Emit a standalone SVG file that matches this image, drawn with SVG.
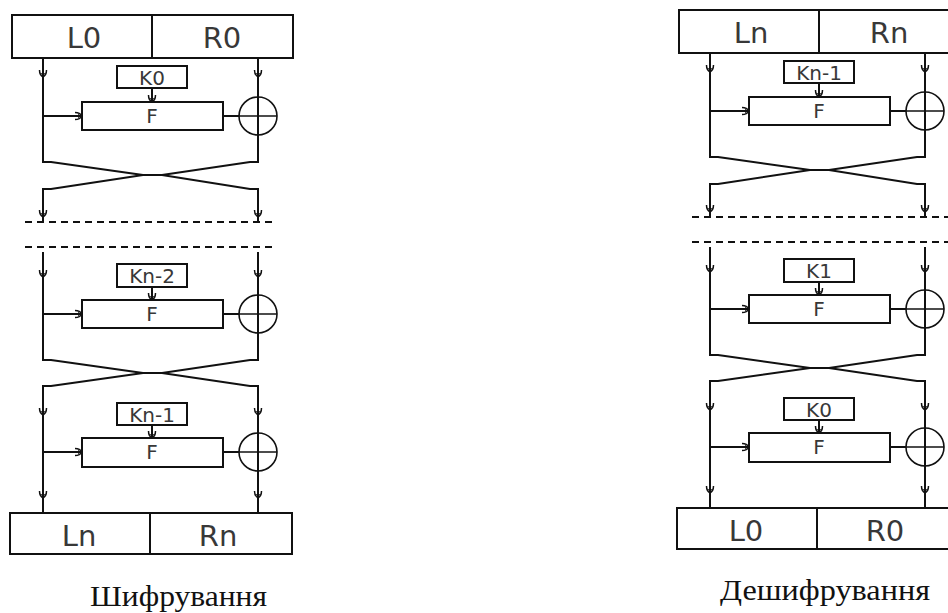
<svg xmlns="http://www.w3.org/2000/svg" xmlns:xlink="http://www.w3.org/1999/xlink" width="948" height="613" viewBox="0 0 948 613">
<style>
.ln{stroke:#111;stroke-width:2;fill:none}
.xor{stroke:#111;stroke-width:1.6;fill:none}
.dash{stroke:#111;stroke-width:2;fill:none;stroke-dasharray:7 5}
.box{fill:#fff;stroke:#111;stroke-width:2}
.big{font-family:"DejaVu Sans",sans-serif;font-size:29px;fill:#383838;text-anchor:middle}
.sm{font-family:"DejaVu Sans",sans-serif;font-size:20px;fill:#383838;text-anchor:middle}
.cap{font-family:"Liberation Serif",serif;font-size:30px;fill:#111;text-anchor:middle}
</style>
<defs>
<g id="ah"><path d="M-3.5,-7 Q-3.5,-2 0,0 Q3.5,-2 3.5,-7" fill="none" stroke="#111" stroke-width="1.5"/><path d="M-2,-4 L2,-4 L0,0Z" fill="#111"/></g>
<g id="ahr"><use xlink:href="#ah" transform="rotate(-90)"/></g>
</defs>
<rect width="948" height="613" fill="#fff"/>

<!-- ENCRYPTION -->
<g id="encryption">
<g id="connectors-enc">
<path class="ln" d="M43,58 V162 H51 L143,175 H162 L250,189 H258 V222"/>
<path class="ln" d="M258,58 V162 H250 L162,175 H143 L51,189 H43 V222"/>
<path class="ln" d="M43,116 H82 M223,116 H239 M152,88 V102"/>
<line class="dash" x1="25" y1="222" x2="277" y2="222"/>
<line class="dash" x1="25" y1="247" x2="277" y2="247"/>
<path class="ln" d="M43,252 V360 H51 L143,373 H162 L250,386 H258 V513"/>
<path class="ln" d="M258,252 V360 H250 L162,373 H143 L51,386 H43 V513"/>
<path class="ln" d="M43,314 H82 M223,314 H239 M152,287 V300"/>
<path class="ln" d="M43,452 H82 M223,452 H239 M152,425 V438"/>
<use xlink:href="#ah" x="43" y="77"/><use xlink:href="#ah" x="258" y="77"/>
<use xlink:href="#ah" x="152" y="102"/><use xlink:href="#ahr" transform="translate(82,116)"/>
<use xlink:href="#ah" x="43" y="217"/><use xlink:href="#ah" x="258" y="217"/>
<use xlink:href="#ah" x="43" y="277"/><use xlink:href="#ah" x="258" y="277"/>
<use xlink:href="#ah" x="152" y="300"/><use xlink:href="#ahr" transform="translate(82,314)"/>
<use xlink:href="#ah" x="43" y="415"/><use xlink:href="#ah" x="258" y="415"/>
<use xlink:href="#ah" x="152" y="438"/><use xlink:href="#ahr" transform="translate(82,452)"/>
<use xlink:href="#ah" x="43" y="498"/><use xlink:href="#ah" x="258" y="498"/>
</g>
<g id="enc-input"><rect class="box" x="12" y="15" width="281" height="43"/><line class="ln" x1="152" y1="15" x2="152" y2="58"/><text class="big" x="84" y="48">L0</text><text class="big" x="222" y="48">R0</text></g>
<g id="enc-k0"><rect class="box" x="117" y="66" width="70" height="22"/><text class="sm" x="152" y="85">K0</text></g>
<g id="enc-f1"><rect class="box" x="82" y="102" width="141" height="28"/><text class="sm" x="152" y="123">F</text></g>
<g id="enc-xor1"><circle class="xor" cx="258" cy="116" r="19"/><path class="xor" d="M239,116 H277"/></g>
<g id="enc-k2"><rect class="box" x="117" y="264" width="70" height="23"/><text class="sm" x="152" y="283">Kn-2</text></g>
<g id="enc-f2"><rect class="box" x="82" y="300" width="141" height="28"/><text class="sm" x="152" y="321">F</text></g>
<g id="enc-xor2"><circle class="xor" cx="258" cy="314" r="19"/><path class="xor" d="M239,314 H277"/></g>
<g id="enc-k3"><rect class="box" x="117" y="403" width="70" height="22"/><text class="sm" x="152" y="422">Kn-1</text></g>
<g id="enc-f3"><rect class="box" x="82" y="438" width="141" height="29"/><text class="sm" x="152" y="459">F</text></g>
<g id="enc-xor3"><circle class="xor" cx="258" cy="452" r="19"/><path class="xor" d="M239,452 H277"/></g>
<g id="enc-output"><rect class="box" x="10" y="513" width="282" height="41"/><line class="ln" x1="150" y1="513" x2="150" y2="554"/><text class="big" x="79" y="546">Ln</text><text class="big" x="218" y="546">Rn</text></g>
<g id="enc-caption"><text class="cap" x="178.5" y="606" textLength="177" lengthAdjust="spacingAndGlyphs">Шифрування</text></g>
</g>

<!-- DECRYPTION -->
<g id="decryption" transform="translate(667,-5)">
<g id="connectors-dec">
<path class="ln" d="M43,58 V162 H51 L143,175 H162 L250,189 H258 V222"/>
<path class="ln" d="M258,58 V162 H250 L162,175 H143 L51,189 H43 V222"/>
<path class="ln" d="M43,116 H82 M223,116 H239 M152,88 V102"/>
<line class="dash" x1="25" y1="222" x2="290" y2="222"/>
<line class="dash" x1="25" y1="247" x2="290" y2="247"/>
<path class="ln" d="M43,252 V360 H51 L143,373 H162 L250,386 H258 V513"/>
<path class="ln" d="M258,252 V360 H250 L162,373 H143 L51,386 H43 V513"/>
<path class="ln" d="M43,314 H82 M223,314 H239 M152,287 V300"/>
<path class="ln" d="M43,452 H82 M223,452 H239 M152,425 V438"/>
<use xlink:href="#ah" x="43" y="77"/><use xlink:href="#ah" x="258" y="77"/>
<use xlink:href="#ah" x="152" y="102"/><use xlink:href="#ahr" transform="translate(82,116)"/>
<use xlink:href="#ah" x="43" y="217"/><use xlink:href="#ah" x="258" y="217"/>
<use xlink:href="#ah" x="43" y="277"/><use xlink:href="#ah" x="258" y="277"/>
<use xlink:href="#ah" x="152" y="300"/><use xlink:href="#ahr" transform="translate(82,314)"/>
<use xlink:href="#ah" x="43" y="415"/><use xlink:href="#ah" x="258" y="415"/>
<use xlink:href="#ah" x="152" y="438"/><use xlink:href="#ahr" transform="translate(82,452)"/>
<use xlink:href="#ah" x="43" y="498"/><use xlink:href="#ah" x="258" y="498"/>
</g>
<g id="dec-input"><rect class="box" x="12" y="15" width="281" height="43"/><line class="ln" x1="152" y1="15" x2="152" y2="58"/><text class="big" x="84" y="48">Ln</text><text class="big" x="222" y="48">Rn</text></g>
<g id="dec-k1"><rect class="box" x="117" y="66" width="70" height="22"/><text class="sm" x="152" y="85">Kn-1</text></g>
<g id="dec-f1"><rect class="box" x="82" y="102" width="141" height="28"/><text class="sm" x="152" y="123">F</text></g>
<g id="dec-xor1"><circle class="xor" cx="258" cy="116" r="19"/><path class="xor" d="M239,116 H277"/></g>
<g id="dec-k2"><rect class="box" x="117" y="264" width="70" height="23"/><text class="sm" x="152" y="283">K1</text></g>
<g id="dec-f2"><rect class="box" x="82" y="300" width="141" height="28"/><text class="sm" x="152" y="321">F</text></g>
<g id="dec-xor2"><circle class="xor" cx="258" cy="314" r="19"/><path class="xor" d="M239,314 H277"/></g>
<g id="dec-k3"><rect class="box" x="117" y="403" width="70" height="22"/><text class="sm" x="152" y="422">K0</text></g>
<g id="dec-f3"><rect class="box" x="82" y="438" width="141" height="29"/><text class="sm" x="152" y="459">F</text></g>
<g id="dec-xor3"><circle class="xor" cx="258" cy="452" r="19"/><path class="xor" d="M239,452 H277"/></g>
<g id="dec-output"><rect class="box" x="10" y="513" width="282" height="41"/><line class="ln" x1="150" y1="513" x2="150" y2="554"/><text class="big" x="79" y="546">L0</text><text class="big" x="218" y="546">R0</text></g>
<g id="dec-caption"><text class="cap" x="158" y="605" textLength="210" lengthAdjust="spacingAndGlyphs">Дешифрування</text></g>
</g>
</svg>
